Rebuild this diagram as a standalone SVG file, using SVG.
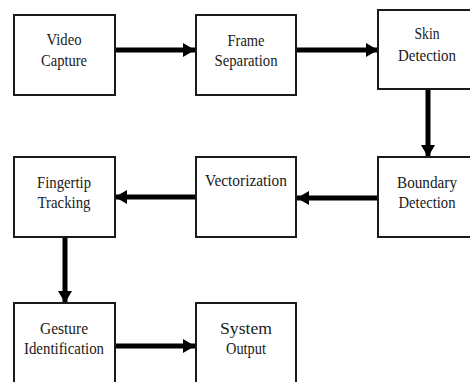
<svg xmlns="http://www.w3.org/2000/svg" width="470" height="382" viewBox="0 0 470 382">
<defs>
<style>
.box{fill:#fff;stroke:#1a1a1a;stroke-width:2}
.t{font-family:"Liberation Serif","Times New Roman",serif;font-size:17px;fill:#1a1a1a;text-anchor:middle}
.c{stroke:#000;stroke-width:5;fill:none}
</style>
<marker id="ah" viewBox="0 0 12 14" refX="12" refY="7" markerWidth="12" markerHeight="14" markerUnits="userSpaceOnUse" orient="auto">
<path d="M0,0 L12,7 L0,14 Z" fill="#000"/>
</marker>
</defs>
<rect width="470" height="382" fill="#fff"/>
<g id="connectors">
<line class="c" x1="115" y1="50" x2="195" y2="50" marker-end="url(#ah)"/>
<line class="c" x1="297" y1="50" x2="378" y2="50" marker-end="url(#ah)"/>
<line class="c" x1="428" y1="89" x2="428" y2="157" marker-end="url(#ah)"/>
<line class="c" x1="378" y1="198" x2="297" y2="198" marker-end="url(#ah)"/>
<line class="c" x1="195" y1="197" x2="115" y2="197" marker-end="url(#ah)"/>
<line class="c" x1="65" y1="237" x2="65" y2="303" marker-end="url(#ah)"/>
<line class="c" x1="115" y1="346" x2="195" y2="346" marker-end="url(#ah)"/>
</g>
<g id="video-capture">
<rect class="box" x="14" y="15" width="101" height="80"/>
<text class="t" x="64" y="45" textLength="35" lengthAdjust="spacingAndGlyphs">Video</text>
<text class="t" x="64" y="66" textLength="46" lengthAdjust="spacingAndGlyphs">Capture</text>
</g>
<g id="frame-separation">
<rect class="box" x="196" y="15" width="100" height="80"/>
<text class="t" x="246" y="46" textLength="37" lengthAdjust="spacingAndGlyphs">Frame</text>
<text class="t" x="246" y="66" textLength="63" lengthAdjust="spacingAndGlyphs">Separation</text>
</g>
<g id="skin-detection">
<rect class="box" x="378" y="10" width="100" height="79"/>
<text class="t" x="427" y="39" textLength="25" lengthAdjust="spacingAndGlyphs">Skin</text>
<text class="t" x="427" y="61" textLength="58" lengthAdjust="spacingAndGlyphs">Detection</text>
</g>
<g id="boundary-detection">
<rect class="box" x="378" y="157" width="100" height="80"/>
<text class="t" x="427" y="188" textLength="60" lengthAdjust="spacingAndGlyphs">Boundary</text>
<text class="t" x="427" y="208" textLength="57" lengthAdjust="spacingAndGlyphs">Detection</text>
</g>
<g id="vectorization">
<rect class="box" x="196" y="157" width="100" height="80"/>
<text class="t" x="246" y="186" textLength="82" lengthAdjust="spacingAndGlyphs">Vectorization</text>
</g>
<g id="fingertip-tracking">
<rect class="box" x="14" y="157" width="101" height="80"/>
<text class="t" x="64" y="188" textLength="54" lengthAdjust="spacingAndGlyphs">Fingertip</text>
<text class="t" x="64" y="208" textLength="53" lengthAdjust="spacingAndGlyphs">Tracking</text>
</g>
<g id="gesture-identification">
<rect class="box" x="14" y="303" width="101" height="84"/>
<text class="t" x="64" y="334" textLength="48" lengthAdjust="spacingAndGlyphs">Gesture</text>
<text class="t" x="64" y="354" textLength="80" lengthAdjust="spacingAndGlyphs">Identification</text>
</g>
<g id="system-output">
<rect class="box" x="196" y="303" width="100" height="84"/>
<text class="t" x="246" y="334" textLength="52" lengthAdjust="spacingAndGlyphs">System</text>
<text class="t" x="246" y="354" textLength="40" lengthAdjust="spacingAndGlyphs">Output</text>
</g>
</svg>
